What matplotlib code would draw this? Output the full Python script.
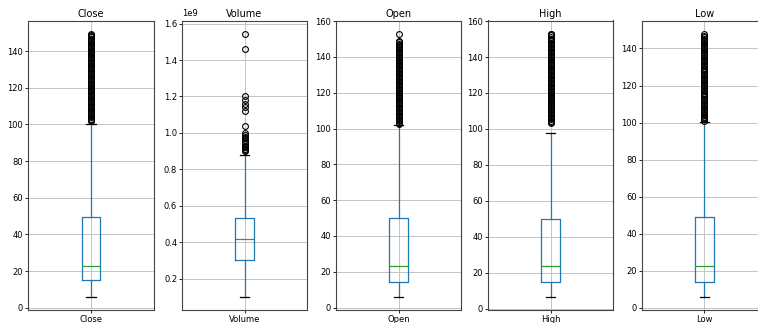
import matplotlib.pyplot as plt

columns = ["Close", "Volume", "Open", "High", "Low"]

# five-number summaries per column: whisker low, Q1, median, Q3, whisker high
close_stats = [6.0, 15.0, 23.0, 49.5, 100.5]
volume_stats = [0.10e9, 0.30e9, 0.415e9, 0.535e9, 0.88e9]
open_stats = [6.0, 14.5, 23.0, 50.0, 102.0]
high_stats = [6.5, 14.8, 23.5, 50.0, 97.5]
low_stats = [6.0, 14.0, 22.5, 49.0, 100.5]

close_fliers = [101.8, 102.5, 103.2, 104.0, 104.8, 105.5, 106.3, 107.0, 107.8, 108.5,
                109.3, 110.0, 110.8, 111.5, 112.3, 113.0, 113.8, 114.5, 115.3, 116.0,
                116.8, 117.5, 118.3, 119.0, 119.8, 120.5, 121.3, 122.0, 122.8, 123.5,
                124.3, 125.0, 125.8, 126.5, 127.3, 128.0, 128.8, 129.5, 130.3, 131.0,
                131.8, 132.5, 133.3, 134.0, 134.8, 135.5, 136.3, 137.0, 137.8, 138.5,
                139.3, 140.0, 140.8, 141.5, 142.3, 143.0, 143.8, 144.5, 145.3, 146.0,
                146.8, 147.5, 148.3, 149.0, 149.5]
volume_fliers = [0.90e9, 0.905e9, 0.91e9, 0.92e9, 0.925e9, 0.93e9, 0.94e9, 0.95e9,
                 0.96e9, 0.97e9, 0.98e9, 0.99e9, 1.00e9, 1.04e9, 1.12e9, 1.14e9,
                 1.16e9, 1.18e9, 1.20e9, 1.46e9, 1.545e9]
open_fliers = [102.5, 103.2, 104.0, 104.8, 105.5, 106.3, 107.0, 107.8, 108.5, 109.3,
               110.0, 110.8, 111.5, 112.3, 113.0, 113.8, 114.5, 115.3, 116.0, 116.8,
               117.5, 118.3, 119.0, 119.8, 120.5, 121.3, 122.0, 122.8, 123.5, 124.3,
               125.0, 125.8, 126.5, 127.3, 128.0, 128.8, 129.5, 130.3, 131.0, 131.8,
               132.5, 133.3, 134.0, 134.8, 135.5, 136.3, 137.0, 137.8, 138.5, 139.3,
               140.0, 140.8, 141.5, 142.3, 143.0, 143.8, 144.5, 145.3, 146.0, 146.8,
               147.5, 148.3, 149.0, 153.0]
high_fliers = [103.0, 103.8, 104.5, 105.3, 106.0, 106.8, 107.5, 108.3, 109.0, 109.8,
               110.5, 111.3, 112.0, 112.8, 113.5, 114.3, 115.0, 115.8, 116.5, 117.3,
               118.0, 118.8, 119.5, 120.3, 121.0, 121.8, 122.5, 123.3, 124.0, 124.8,
               125.5, 126.3, 127.0, 127.8, 128.5, 129.3, 130.0, 130.8, 131.5, 132.3,
               133.0, 133.8, 134.5, 135.3, 136.0, 136.8, 137.5, 138.3, 139.0, 139.8,
               140.5, 141.3, 142.0, 142.8, 143.5, 144.3, 145.0, 145.8, 146.5, 147.3,
               148.0, 148.8, 149.5, 150.3, 151.0, 152.0, 152.8, 153.0]
low_fliers = [101.0, 101.8, 102.5, 103.3, 104.0, 104.8, 105.5, 106.3, 107.0, 107.8,
              108.5, 109.3, 110.0, 110.8, 111.5, 112.3, 113.0, 113.8, 114.5, 115.3,
              116.0, 116.8, 117.5, 118.3, 119.0, 119.8, 120.5, 121.3, 122.0, 122.8,
              123.5, 124.3, 125.0, 125.8, 126.5, 127.3, 128.0, 128.8, 129.5, 130.3,
              131.0, 131.8, 132.5, 133.3, 134.0, 134.8, 135.5, 136.3, 137.0, 137.8,
              138.5, 139.3, 140.0, 140.8, 141.5, 142.3, 143.0, 143.8, 144.5, 145.3,
              146.0, 146.8, 148.0]

all_stats = [close_stats, volume_stats, open_stats, high_stats, low_stats]
all_fliers = [close_fliers, volume_fliers, open_fliers, high_fliers, low_fliers]

# axes left/right edges in pixels; the last panel runs past the right border
edges = [(28, 154), (182, 307), (336, 461), (488, 613), (642, 767)]

W, H = 758, 323
fig = plt.figure(figsize=(W / 100, H / 100), dpi=100)

for name, s, fl, (x0, x1) in zip(columns, all_stats, all_fliers, edges):
    ax = fig.add_axes([x0 / W, (H - 310) / H, (x1 - x0) / W, 289.5 / H])
    stats = [dict(label=name, whislo=s[0], q1=s[1], med=s[2], q3=s[3],
                  whishi=s[4], fliers=fl)]
    ax.bxp(stats,
           boxprops=dict(color="#1f77b4", linewidth=0.9),
           whiskerprops=dict(color="#1f77b4", linewidth=0.9),
           medianprops=dict(color="#2ca02c", linewidth=0.9),
           capprops=dict(color="k", linewidth=0.9),
           flierprops=dict(marker="o", markerfacecolor="none",
                           markeredgecolor="k", markersize=4.2,
                           markeredgewidth=0.8))
    ax.grid(True, color="#c4c4c4", linewidth=0.7)
    ax.set_axisbelow(True)
    ax.set_title(name, fontsize=7, pad=2.5)
    ax.tick_params(labelsize=6, length=2, width=0.6, pad=1.5)
    ax.yaxis.get_offset_text().set_fontsize(6)
    for sp in ax.spines.values():
        sp.set_color("#444444")
        sp.set_linewidth(0.8)

fig.savefig("out.png", dpi=100)
